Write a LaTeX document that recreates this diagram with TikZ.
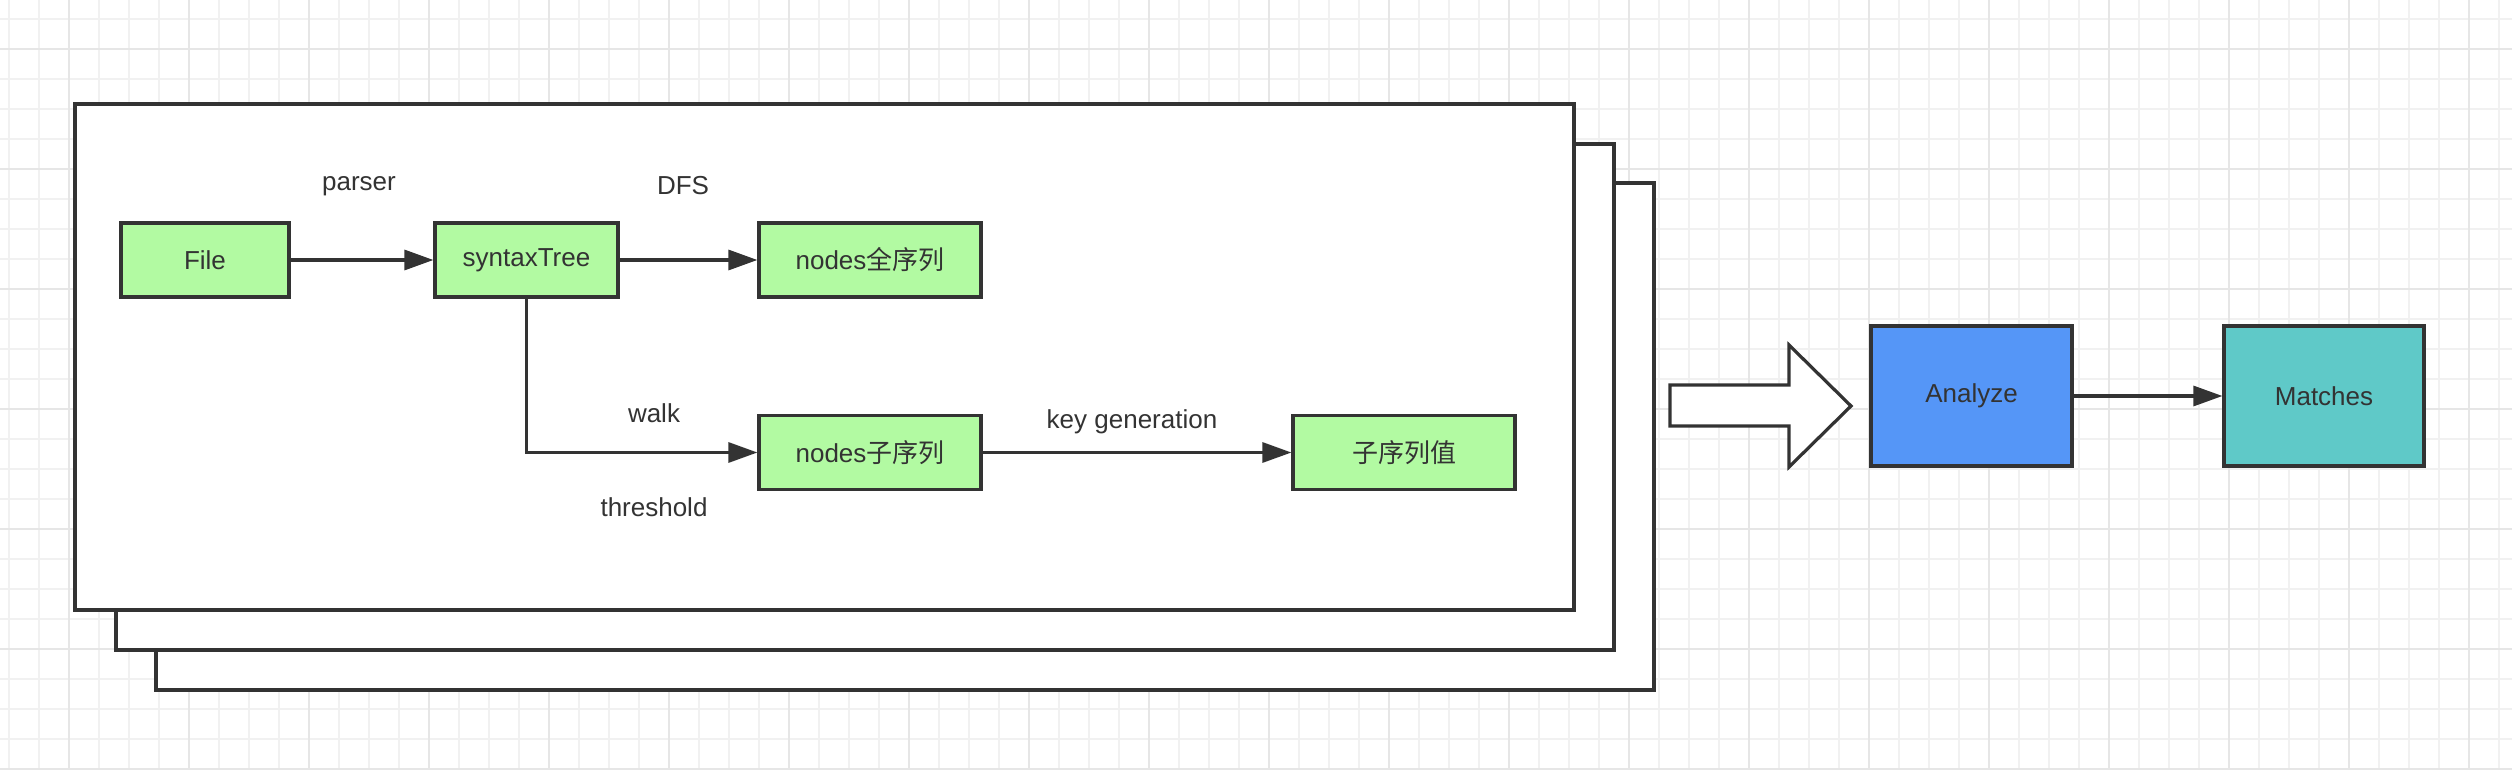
\documentclass[tikz,border=0pt]{standalone}
\usepackage{fontspec}
\setmainfont{Liberation Sans}
\newfontfamily\cjk{Noto Sans CJK SC}
\usetikzlibrary{arrows.meta}
\definecolor{lineC}{HTML}{333333}
\definecolor{greenC}{HTML}{B2FAA2}
\definecolor{blueC}{HTML}{5596F7}
\definecolor{tealC}{HTML}{5FC9C8}
\definecolor{gridMinor}{HTML}{F1F1F1}
\definecolor{gridMajor}{HTML}{E6E6E6}
\tikzset{
  txt/.style={font=\fontsize{26}{30}\selectfont, text=lineC},
  box/.style={draw=lineC, line width=3.2pt, minimum height=74pt, txt, inner sep=0pt},
  gbox/.style={box, fill=greenC},
  lbl/.style={txt, inner sep=0pt},
  frame/.style={draw=lineC, line width=3.2pt, fill=white},
  conn/.style={draw=lineC, line width=3.2pt, -{Triangle[length=29pt,width=20pt]}},
}
\begin{document}
\begin{tikzpicture}[x=1pt,y=-1pt]
\useasboundingbox (0,0) rectangle (2512,770);
\fill[white] (0,0) rectangle (2512,770);
% grid
\foreach \x in {9,39,...,2512} \draw[gridMinor, line width=1.5pt] (\x,0) -- (\x,770);
\foreach \y in {19,49,...,770} \draw[gridMinor, line width=1.5pt] (0,\y) -- (2512,\y);
\foreach \x in {69,189,...,2512} \draw[gridMajor, line width=2pt] (\x,0) -- (\x,770);
\foreach \y in {49,169,...,770} \draw[gridMajor, line width=2pt] (0,\y) -- (2512,\y);
% stacked frames
\path[frame] (156,183) rectangle (1654,690);
\path[frame] (116,144) rectangle (1614,650);
\path[frame] (75,104) rectangle (1574,610);
% nodes
\node[gbox, minimum width=168pt] (file) at (205,260) {File};
\node[gbox, minimum width=183pt] (tree) at (526.5,260) {syntaxTree};
\node[gbox, minimum width=222pt] (full) at (870,260) {nodes{\cjk 全序列}};
\node[gbox, minimum width=222pt] (sub) at (870,452.5) {nodes{\cjk 子序列}};
\node[gbox, minimum width=222pt] (val) at (1404,452.5) {{\cjk 子序列值}};
\node[box, fill=blueC, minimum width=201pt, minimum height=140pt] (ana) at (1971.5,396) {Analyze};
\node[box, fill=tealC, minimum width=200pt, minimum height=140pt] (mat) at (2324,396) {Matches};
% labels
\node[lbl] (lparser) at (359,186) {parser};
\node[lbl] (ldfs) at (683,186) {DFS};
\node[lbl] (lwalk) at (654,413) {walk};
\node[lbl] (lthr) at (654,507) {threshold};
\node[lbl] (lkey) at (1132,422) {key generation};
% connectors
\draw[conn] (file) -- (tree);
\draw[conn] (tree) -- (full);
\draw[conn] (tree.south) |- (sub.west);
\draw[conn] (sub) -- (val);
\draw[conn] (ana) -- (mat);
% block arrow
\draw[lineC, line width=3.2pt, fill=white, line join=miter]
  (1670,385) -- (1789,385) -- (1789,345) -- (1851,406) -- (1789,467) -- (1789,426) -- (1670,426) -- cycle;
\end{tikzpicture}
\end{document}
